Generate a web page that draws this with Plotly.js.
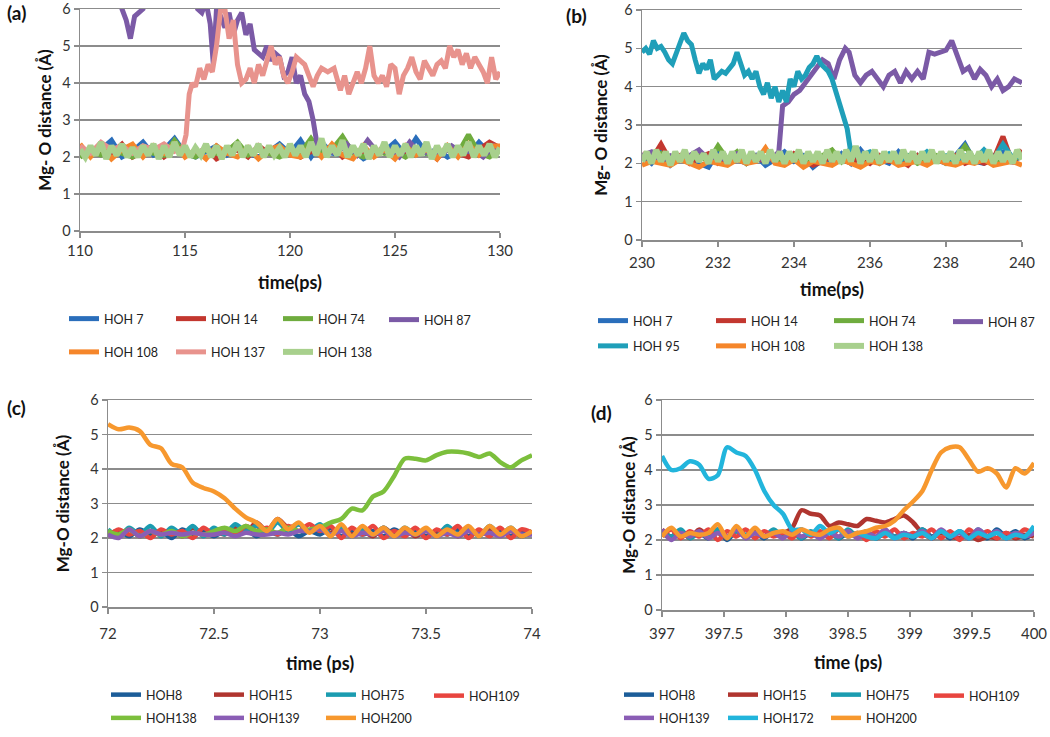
<!DOCTYPE html>
<html><head><meta charset="utf-8">
<script src="https://cdn.plot.ly/plotly-3.0.1.min.js"></script>
<style>html,body{margin:0;padding:0;background:#fff}#chart{width:1050px;height:737px}</style>
</head><body><div id="chart"></div><script>
// ---------- Panel (a) ----------
const tA = [110,110.5,111,111.5,112,112.5,113,113.5,114,114.5,115,115.5,116,116.5,117,117.5,118,118.5,119,119.5,120,120.5,121,121.5,122,122.5,123,123.5,124,124.5,125,125.5,126,126.5,127,127.5,128,128.5,129,129.5,130];
const a_hoh7   = [2.1,2.05,2.2,2.45,2.0,2.15,2.4,2.05,2.2,2.5, 2.1,2.0,2.15,2.3,2.05,2.2,2.1,2.0,2.15,2.35, 2.1,2.45,2.0,2.4,2.1,2.05,2.2,1.95,2.1,2.15, 2.4,2.05,2.5,2.1,2.2,2.0,2.15,2.05,2.4,2.1, 2.2];
const a_hoh14  = [2.3,2.05,2.2,2.1,2.35,2.0,2.15,2.3,2.0,2.2, 2.1,2.05,2.25,1.95,2.1,2.2,2.0,2.3,2.1,2.05, 2.2,2.0,2.15,2.1,2.3,2.0,2.2,2.1,2.05,2.3, 2.0,2.15,2.1,2.2,1.95,2.3,2.1,2.0,2.2,2.4, 2.25];
const a_hoh74  = [2.0,2.15,2.05,2.2,2.1,2.0,2.2,2.1,2.05,2.45, 2.1,2.0,2.2,2.1,2.15,2.4,2.05,2.2,2.1,2.0, 2.15,2.1,2.5,2.1,2.2,2.55,2.1,2.0,2.2,2.1, 2.15,2.0,2.2,2.1,2.05,2.2,2.1,2.6,2.1,2.0, 2.2];
const a_hoh108 = [2.35,2.0,2.3,1.95,2.2,2.35,2.0,2.3,2.1,2.35, 2.0,2.2,1.95,2.3,2.1,2.0,2.25,1.95,2.2,2.3, 2.05,2.0,2.3,2.0,2.35,2.05,1.95,2.3,2.0,2.2, 1.95,2.3,2.05,2.2,1.95,2.3,2.0,2.35,2.05,2.3, 2.3];
const a_t138 = [110,110.25,110.5,110.75,111,111.25,111.5,111.75,112,112.25,112.5,112.75,113,113.25,113.5,113.75,114,114.25,114.5,114.75,115,115.25,115.5,115.75,116,116.25,116.5,116.75,117,117.25,117.5,117.75,118,118.25,118.5,118.75,119,119.25,119.5,119.75,120,120.25,120.5,120.75,121,121.25,121.5,121.75,122,122.25,122.5,122.75,123,123.25,123.5,123.75,124,124.25,124.5,124.75,125,125.25,125.5,125.75,126,126.25,126.5,126.75,127,127.25,127.5,127.75,128,128.25,128.5,128.75,129,129.25,129.5,129.75,130];
const a_hoh138 = [2.2,2.0,2.3,2.05,2.4,1.95,2.3,2.05,2.35,2.0, 2.25,2.0,2.3,2.05,2.35,1.95,2.3,2.0,2.4,2.05, 2.3,2.0,2.25,2.05,2.35,2.0,2.3,1.95,2.3,2.05, 2.4,2.0,2.3,2.05,2.35,2.0,2.3,2.05,2.25,2.0, 2.35,2.05,2.3,2.0,2.4,2.05,2.5,2.0,2.3,2.05, 2.45,2.0,2.3,2.05,2.35,1.95,2.3,2.05,2.4,2.0, 2.3,2.05,2.35,2.0,2.3,2.05,2.4,1.95,2.3,2.05, 2.35,2.0,2.3,2.05,2.4,2.0,2.3,2.05,2.35,2.0, 2.25];
const a_t87 = [110,111.8,112.0,112.2,112.4,112.6,112.8,113.0,113.2, 115.4,115.6,115.8,116.0,116.2,116.35,116.5,116.7,116.9, 117.1,117.3,117.5,117.7,117.9, 118.1,118.3,118.5,118.7,118.9, 119.1,119.3,119.5,119.7,119.9, 120.1,120.3,120.5,120.7,120.9, 121.1,121.3, 121.7,122.2,122.7,123.2,123.7,124.2,124.7,125.2,125.7,126.2, 126.7,127.2,127.7,128.2,128.7,129.2,129.7,130];
const a_hoh87 = [6.8,6.3,6.0,5.7,5.2,5.8,5.9,6.0,6.5, 6.5,6.0,5.9,6.2,5.6,4.5,6.0,5.8,5.5, 5.9,5.3,5.7,5.9,5.3, 5.6,4.9,4.8,4.7,5.0, 4.6,4.8,4.7,4.2,4.3, 4.7,4.0,4.2,3.7,3.5, 3.0,2.3, 2.2,2.1,2.35,2.05,2.45,2.1,2.2,2.0,2.4,2.1, 2.15,2.05,2.3,2.1,2.2,2.0,2.3,2.15];
const a_t137 = [110,110.5,111,111.5,112,112.5,113,113.5,114,114.5, 114.9,115.05,115.2,115.35,115.5,115.7,115.9,116.1,116.3,116.5, 116.7,116.9,117.1,117.3,117.5,117.7,117.9,118.1,118.3,118.5, 118.7,118.9,119.1,119.3,119.5,119.7,119.9,120.1,120.3,120.5, 120.7,120.9,121.1,121.3,121.5,121.8,122.1,122.4,122.6,122.8, 123.0,123.2,123.4,123.6,123.8,124.0,124.2,124.4,124.6,124.8, 125.0,125.2,125.4,125.6,125.8,126.0,126.2,126.4,126.6,126.8, 127.0,127.2,127.4,127.6,127.8,128.0,128.2,128.4,128.6,128.8, 129.0,129.2,129.4,129.6,129.8,130];
const a_hoh137 = [2.3,2.1,2.4,2.2,2.3,2.1,2.3,2.2,2.35,2.15, 2.25,2.6,3.7,4.0,3.9,4.4,4.1,4.5,4.3,5.0, 6.0,6.0,5.2,5.7,4.5,4.0,4.1,4.4,4.0,4.5, 4.2,4.6,5.0,4.5,4.7,4.2,4.0,4.3,4.7,4.6, 4.5,4.2,3.9,4.2,4.4,4.3,4.4,3.8,4.2,3.7, 4.0,4.3,4.0,4.4,5.0,4.2,4.0,4.2,3.9,4.5, 4.4,3.7,4.2,4.4,4.7,4.3,4.1,4.6,4.4,4.2, 4.5,4.6,4.4,5.0,4.7,4.9,4.5,4.8,4.4,4.7, 4.5,4.3,4.0,4.7,4.1,4.3];

// ---------- Panel (b) ----------
const tB = [230,230.25,230.5,230.75,231,231.25,231.5,231.75,232,232.25,232.5,232.75,233,233.25,233.5,233.75,234,234.25,234.5,234.75,235,235.25,235.5,235.75,236,236.25,236.5,236.75,237,237.25,237.5,237.75,238,238.25,238.5,238.75,239,239.25,239.5,239.75,240];
const b_hoh7   = [2.2,2.0,2.3,1.95,2.15,2.1,2.0,1.9,2.3,2.05, 2.1,2.0,2.2,1.95,2.1,2.3,2.05,2.2,1.9,2.1, 2.0,2.25,2.0,2.35,2.05,2.1,2.0,2.3,2.05,2.2, 2.0,2.1,2.0,2.2,2.5,2.05,2.0,2.2,2.3,2.05, 2.2];
const b_hoh14  = [2.25,2.1,2.5,2.05,2.2,2.0,2.15,2.25,2.0,2.1, 2.2,2.0,2.15,2.05,2.2,2.0,2.25,2.1,1.95,2.05, 2.2,2.1,2.0,2.15,2.0,2.2,2.05,2.1,1.95,2.2, 2.0,2.1,2.05,2.2,2.0,2.1,2.0,2.1,2.7,2.0, 2.35];
const b_hoh74  = [2.2,2.1,2.25,2.0,2.15,2.1,2.2,2.05,2.45,2.1, 2.3,2.0,2.2,2.1,2.15,2.05,2.2,2.0,2.1,2.2, 2.35,2.05,2.4,2.1,2.2,2.0,2.15,2.1,2.2,2.0, 2.1,2.2,2.0,2.1,2.45,2.1,2.2,2.0,2.15,2.1, 2.2];
const b_hoh108 = [1.95,2.05,2.0,1.95,2.1,2.0,1.9,2.05,2.0,1.95, 2.1,2.0,2.05,2.4,2.0,1.95,2.1,1.9,2.05,2.0, 1.95,2.1,2.0,1.9,2.05,2.0,2.1,1.95,2.0,2.05, 1.95,2.1,2.0,1.95,2.05,2.0,2.1,1.95,2.0,2.05, 1.95];
const b_t138 = [230,230.125,230.25,230.375,230.5,230.625,230.75,230.875,231,231.125,231.25,231.375,231.5,231.625,231.75,231.875,232,232.125,232.25,232.375,232.5,232.625,232.75,232.875,233,233.125,233.25,233.375,233.5,233.625,233.75,233.875,234,234.125,234.25,234.375,234.5,234.625,234.75,234.875,235,235.125,235.25,235.375,235.5,235.625,235.75,235.875,236,236.125,236.25,236.375,236.5,236.625,236.75,236.875,237,237.125,237.25,237.375,237.5,237.625,237.75,237.875,238,238.125,238.25,238.375,238.5,238.625,238.75,238.875,239,239.125,239.25,239.375,239.5,239.625,239.75,239.875,240];
const b_hoh138 = [2.05,2.3,2.0,2.35,2.05,2.3,1.95,2.3,2.05,2.35, 2.0,2.3,2.05,2.25,2.0,2.35,2.05,2.3,2.0,2.3, 2.05,2.35,2.0,2.3,2.05,2.3,2.0,2.35,2.05,2.3, 2.0,2.3,2.05,2.35,2.0,2.3,2.05,2.3,2.0,2.35, 2.05,2.3,2.0,2.35,2.05,2.45,2.0,2.3,2.05,2.35, 2.0,2.3,2.05,2.3,2.0,2.35,2.05,2.3,2.0,2.3, 2.05,2.35,2.0,2.3,2.05,2.3,2.0,2.35,2.05,2.3, 2.0,2.3,2.05,2.35,2.0,2.3,2.05,2.3,2.0,2.35, 2.1];
const b_t87 = [230,230.25,230.5,230.75,231,231.25,231.5,231.75,232,232.25, 232.5,232.75,233,233.25,233.5, 233.6,233.7,233.85,234.0,234.15, 234.3,234.45,234.6,234.75,234.9, 235.05,235.2,235.35,235.45,235.6, 235.75,235.9,236.05,236.2,236.35, 236.5,236.65,236.8,236.95,237.1, 237.25,237.4,237.55,237.7,237.85,238.0,238.15,238.3,238.45,238.6,238.75,238.9,239.05,239.2,239.35,239.5,239.65,239.8,240];
const b_hoh87 = [2.2,2.3,2.05,2.2,2.1,2.2,2.35,2.1,2.2,2.05, 2.25,2.1,2.2,2.05,2.2, 2.3,3.5,3.6,3.8,3.9, 4.1,4.3,4.5,4.7,4.6, 4.2,4.7,5.0,4.9,4.3, 4.1,4.3,4.4,4.2,4.0, 4.3,4.4,4.1,4.4,4.2, 4.4,4.2,4.9,4.85,4.9,4.95,5.2,4.8,4.4,4.5,4.2,4.45,4.3,4.0,4.2,3.9,4.0,4.2,4.1];
const b_t95 = [230,230.1,230.2,230.3,230.4,230.5,230.6,230.7,230.8,230.9, 231.0,231.1,231.2,231.3,231.4,231.5,231.6,231.7,231.8,231.9, 232.0,232.1,232.2,232.3,232.4,232.5,232.6,232.7,232.8,232.9, 233.0,233.1,233.2,233.3,233.4,233.5,233.6,233.7,233.8,233.9, 234.0,234.1,234.2,234.3,234.4,234.5,234.6,234.7,234.8,234.9, 235.0,235.1,235.2,235.3,235.4,235.5, 235.75,236,236.25,236.5,236.75,237,237.25,237.5,237.75,238,238.25,238.5,238.75,239,239.25,239.5,239.75,240];
const b_hoh95 = [4.9,5.0,4.85,5.2,5.0,5.05,4.9,4.7,4.6,4.9, 5.1,5.4,5.2,5.1,4.7,4.35,4.6,4.45,4.7,4.2, 4.3,4.4,4.35,4.5,4.6,4.9,4.6,4.3,4.4,4.2, 4.4,4.0,3.8,4.1,3.7,4.0,3.6,3.9,3.6,4.2, 4.0,4.4,4.2,4.3,4.5,4.6,4.8,4.6,4.5,4.4, 4.2,3.9,3.6,3.3,2.9,2.25, 2.2,2.3,2.1,2.25,2.05,2.2,2.1,2.3,2.1,2.2,2.05,2.2,2.1,2.35,2.1,2.5,2.15,2.2];

// ---------- Panel (c) ----------
const tC = [72,72.05,72.1,72.15,72.2,72.25,72.3,72.35,72.4,72.45,72.5,72.55,72.6,72.65,72.7,72.75,72.8,72.85,72.9,72.95,73,73.05,73.1,73.15,73.2,73.25,73.3,73.35,73.4,73.45,73.5,73.55,73.6,73.65,73.7,73.75,73.8,73.85,73.9,73.95,74];
const c_hoh8   = [2.1,2.2,2.05,2.25,2.1,2.2,2.0,2.25,2.1,2.2, 2.05,2.2,2.1,2.25,2.05,2.2,2.1,2.25,2.05,2.2, 2.1,2.3,2.05,2.2,2.1,2.2,2.05,2.25,2.1,2.2, 2.05,2.2,2.1,2.25,2.05,2.2,2.1,2.25,2.05,2.2, 2.1];
const c_hoh15  = [2.2,2.1,2.25,2.05,2.2,2.1,2.25,2.05,2.3,2.1, 2.2,2.1,2.3,2.15,2.45,2.2,2.55,2.3,2.4,2.2, 2.35,2.15,2.3,2.1,2.2,2.05,2.3,2.1,2.25,2.05, 2.2,2.1,2.3,2.05,2.2,2.1,2.25,2.1,2.2,2.05, 2.2];
const c_hoh75  = [2.25,2.05,2.3,2.1,2.35,2.05,2.3,2.1,2.35,2.05, 2.3,2.1,2.4,2.2,2.35,2.15,2.45,2.2,2.4,2.2, 2.4,2.1,2.3,2.05,2.25,2.1,2.3,2.05,2.3,2.1, 2.25,2.05,2.35,2.1,2.3,2.05,2.35,2.1,2.3,2.05, 2.2];
const c_hoh109 = [2.05,2.25,2.1,2.2,2.0,2.25,2.1,2.2,2.0,2.3, 2.1,2.25,2.1,2.35,2.2,2.3,2.1,2.35,2.2,2.4, 2.2,2.35,2.0,2.3,2.1,2.35,2.0,2.2,2.05,2.3, 2.0,2.25,2.1,2.35,2.0,2.25,2.05,2.3,2.0,2.25, 2.15];
const c_hoh138 = [2.2,2.1,2.25,2.05,2.2,2.1,2.2,2.05,2.15,2.1, 2.2,2.3,2.2,2.35,2.2,2.25,2.15,2.3,2.2,2.25, 2.3,2.45,2.55,2.85,2.8,3.2,3.35,3.8,4.3,4.3, 4.25,4.4,4.5,4.5,4.45,4.35,4.45,4.2,4.05,4.25, 4.4];
const c_hoh139 = [2.1,2.0,2.25,2.05,2.2,2.1,2.15,2.1,2.15,2.1, 2.1,2.15,2.05,2.15,2.1,2.1,2.15,2.1,2.2,2.2, 2.25,2.1,2.2,2.05,2.15,2.1,2.2,2.05,2.15,2.1, 2.2,2.05,2.15,2.05,2.2,2.1,2.15,2.05,2.2,2.1, 2.1];
const c_hoh200 = [5.3,5.15,5.2,5.1,4.7,4.6,4.15,4.05,3.6,3.45, 3.35,3.15,2.85,2.6,2.45,2.2,2.55,2.25,2.45,2.15, 2.35,2.05,2.4,2.05,2.35,2.1,2.3,2.05,2.3,2.1, 2.3,2.05,2.25,2.1,2.35,2.05,2.35,2.1,2.3,2.05, 2.2];

// ---------- Panel (d) ----------
const tD = [397,397.075,397.15,397.225,397.3,397.375,397.45,397.525,397.6,397.675,397.75,397.825,397.9,397.975,398.05,398.125,398.2,398.275,398.35,398.425,398.5,398.575,398.65,398.725,398.8,398.875,398.95,399.025,399.1,399.175,399.25,399.325,399.4,399.475,399.55,399.625,399.7,399.775,399.85,399.925,400];
const d_hoh8   = [2.2,2.05,2.25,2.1,2.2,2.05,2.3,2.0,2.25,2.1, 2.2,2.05,2.25,2.1,2.2,2.05,2.2,2.1,2.25,2.05, 2.2,2.1,2.25,2.05,2.2,2.1,2.2,2.05,2.3,2.1, 2.2,2.05,2.25,2.1,2.2,2.05,2.3,2.1,2.25,2.05, 2.2];
const d_hoh15  = [2.3,2.1,2.25,2.05,2.3,2.1,2.2,2.05,2.3,2.1, 2.25,2.1,2.2,2.2,2.35,2.85,2.75,2.7,2.4,2.5, 2.45,2.4,2.6,2.55,2.5,2.6,2.7,2.5,2.2,2.05, 2.2,2.1,2.05,2.15,2.0,2.1,2.05,2.2,2.05,2.15, 2.1];
const d_hoh75  = [2.25,2.1,2.3,2.05,2.2,2.1,2.3,2.05,2.25,2.15, 2.2,2.1,2.3,2.1,2.2,2.05,2.25,2.1,2.2,2.05, 2.3,2.1,2.2,2.05,2.25,2.1,2.2,2.1,2.3,2.05, 2.25,2.1,2.2,2.05,2.3,2.1,2.25,2.05,2.2,2.1, 2.3];
const d_hoh109 = [2.1,2.3,2.05,2.25,2.1,2.3,2.0,2.25,2.1,2.3, 2.05,2.25,2.1,2.2,2.05,2.3,2.1,2.25,2.05,2.3, 2.1,2.2,2.0,2.25,2.1,2.3,2.05,2.2,2.1,2.3, 2.05,2.25,2.0,2.3,2.1,2.25,2.05,2.2,2.1,2.3, 2.15];
const d_hoh139 = [2.3,2.0,2.2,2.1,2.25,2.05,2.2,2.1,2.3,2.05, 2.2,2.1,2.2,2.05,2.25,2.1,2.2,2.05,2.2,2.1, 2.25,2.05,2.2,2.1,2.3,2.05,2.2,2.1,2.25,2.05, 2.3,2.1,2.2,2.05,2.3,2.1,2.25,2.05,2.2,2.1, 2.2];
const d_hoh172 = [4.4,4.0,4.05,4.25,4.15,3.75,3.85,4.65,4.5,4.4, 4.0,3.4,3.0,2.75,2.3,2.3,2.15,2.4,2.2,2.3, 2.1,2.2,2.1,2.05,2.2,2.05,2.15,2.1,2.2,2.05, 2.25,2.1,2.25,2.05,2.2,2.1,2.2,2.05,2.15,2.1, 2.4];
const d_hoh200 = [2.1,2.35,2.1,2.2,2.15,2.2,2.45,2.05,2.4,2.1, 2.35,2.1,2.2,2.25,2.15,2.3,2.2,2.15,2.3,2.35, 2.1,2.2,2.25,2.35,2.4,2.55,2.85,3.1,3.4,4.0, 4.5,4.65,4.65,4.3,3.95,4.05,3.9,3.5,4.05,3.9, 4.2];

// ---------- Styling ----------
const FONT = 'Lato, "Open Sans", "DejaVu Sans", sans-serif';
const W = 1050, H = 737;
function px(v){ return v / W; }
function py(v){ return 1 - v / H; }

function tr(x, y, name, color, ax, leg, width, shape){
  return {type:'scatter', mode:'lines', x:x, y:y, name:name,
    xaxis:'x'+ax, yaxis:'y'+ax, legend:leg, legendgroup:'p'+ax+name,
    line:{color:color, width:width, shape:shape||'linear', smoothing:0.8},
    hoverinfo:'skip'};
}
const traces = [
  tr(tA, a_hoh7,   'HOH 7',   '#2a6ebb', '',  'legend',  5),
  tr(tA, a_hoh14,  'HOH 14',  '#c3372f', '',  'legend2', 5),
  tr(tA, a_hoh74,  'HOH 74',  '#6fac3e', '',  'legend3', 5),
  tr(a_t87, a_hoh87, 'HOH 87', '#7b5aa6', '', 'legend4', 5),
  tr(tA, a_hoh108, 'HOH 108', '#f5862b', '',  'legend',  5),
  tr(a_t137, a_hoh137, 'HOH 137', '#e8938d', '', 'legend2', 5),
  tr(a_t138, a_hoh138, 'HOH 138', '#a8d08d', '', 'legend3', 6),

  tr(tB, b_hoh7,   'HOH 7',   '#2a6ebb', '2', 'legend5', 5),
  tr(tB, b_hoh14,  'HOH 14',  '#c3372f', '2', 'legend6', 5),
  tr(tB, b_hoh74,  'HOH 74',  '#6fac3e', '2', 'legend7', 5),
  tr(b_t87, b_hoh87, 'HOH 87', '#7b5aa6', '2', 'legend8', 5),
  tr(b_t95, b_hoh95, 'HOH 95', '#1f9fb9', '2', 'legend5', 5),
  tr(tB, b_hoh108, 'HOH 108', '#f5862b', '2', 'legend6', 5),
  tr(b_t138, b_hoh138, 'HOH 138', '#a8d08d', '2', 'legend7', 6),

  tr(tC, c_hoh8,   'HOH8',   '#1c5d99', '3', 'legend9',  4.5, 'spline'),
  tr(tC, c_hoh15,  'HOH15',  '#b0352f', '3', 'legend10', 4.5, 'spline'),
  tr(tC, c_hoh75,  'HOH75',  '#1b9cb0', '3', 'legend11', 4.5, 'spline'),
  tr(tC, c_hoh109, 'HOH109', '#e8453f', '3', 'legend12', 4.5, 'spline'),
  tr(tC, c_hoh138, 'HOH138', '#7cbf3c', '3', 'legend9',  4.5, 'spline'),
  tr(tC, c_hoh139, 'HOH139', '#8a5db5', '3', 'legend10', 4.5, 'spline'),
  tr(tC, c_hoh200, 'HOH200', '#f7982e', '3', 'legend11', 4.5, 'spline'),

  tr(tD, d_hoh8,   'HOH8',   '#1c5d99', '4', 'legend13', 4.5, 'spline'),
  tr(tD, d_hoh15,  'HOH15',  '#b0352f', '4', 'legend14', 4.5, 'spline'),
  tr(tD, d_hoh75,  'HOH75',  '#1b9cb0', '4', 'legend15', 4.5, 'spline'),
  tr(tD, d_hoh109, 'HOH109', '#e8453f', '4', 'legend16', 4.5, 'spline'),
  tr(tD, d_hoh139, 'HOH139', '#8a5db5', '4', 'legend13', 4.5, 'spline'),
  tr(tD, d_hoh172, 'HOH172', '#22b5dc', '4', 'legend14', 4.5, 'spline'),
  tr(tD, d_hoh200, 'HOH200', '#f7982e', '4', 'legend15', 4.5, 'spline')
];

const GRID = '#8c8c8c';
function xax(dom, anchor, range, dtick, title, standoff, lblOff){
  return {domain:dom, anchor:anchor, range:range, dtick:dtick, tick0:range[0],
    showgrid:false, zeroline:false, showline:true, mirror:true, linecolor:GRID, linewidth:1.5,
    ticks:'outside', ticklen:5, tickcolor:GRID, tickwidth:1.5, ticklabeloverflow:'allow',
    ticklabelstandoff:lblOff || 0,
    tickfont:{family:FONT, size:15, color:'#333'},
    title:{text:title, font:{family:FONT, size:18, color:'#111', weight:'bold'}, standoff:standoff},
    fixedrange:true};
}
function yax(dom, anchor, title, standoff){
  return {domain:dom, anchor:anchor, range:[0,6], dtick:1, tick0:0,
    showgrid:true, gridcolor:GRID, gridwidth:1.5, zeroline:false,
    showline:true, linecolor:GRID, linewidth:1.5,
    ticks:'outside', ticklen:5, tickcolor:GRID, tickwidth:1.5, ticklabeloverflow:'allow',
    tickfont:{family:FONT, size:14.5, color:'#333'},
    title:{text:title, font:{family:FONT, size:17, color:'#111', weight:'bold'}, standoff:standoff},
    fixedrange:true};
}
// one legend per legend column; rows spaced by tracegroupgap
function leg(xp, yp, gap){
  return {orientation:'v', x:px(xp - 4), y:py(yp), xanchor:'left', yanchor:'middle',
    bgcolor:'rgba(0,0,0,0)', borderwidth:0, tracegroupgap:gap,
    font:{family:FONT, size:12.5, color:'#222'}, traceorder:'grouped'};
}
function lab(t, xp, yp){
  return {text:t, xref:'paper', yref:'paper', x:px(xp), y:py(yp), xanchor:'center', yanchor:'middle',
    showarrow:false, font:{family:FONT, size:19, color:'#111', weight:'bold'}};
}
const aR = [320, 351], bR = [322, 345], cR = [696, 717], dR = [696, 717];
const mid = r => (r[0] + r[1]) / 2;

const layout = {
  width:W, height:H, margin:{l:0,r:0,t:0,b:0},
  paper_bgcolor:'#fff', plot_bgcolor:'#fff', showlegend:true,
  xaxis:  xax([px(80),  px(500)],  'y',  [110,130], 5,   'time(ps)', 19, 0),
  yaxis:  yax([py(231), py(9)],    'x',  'Mg- O distance (Å)', 6),
  xaxis2: xax([px(642), px(1022)], 'y2', [230,240], 2,   'time(ps)', 14, 3),
  yaxis2: yax([py(240), py(10)],   'x2', 'Mg- O distance (Å)', 12),
  xaxis3: xax([px(108), px(532)],  'y3', [72,74],   0.5, 'time (ps)', 17, 7),
  yaxis3: yax([py(607), py(400)],  'x3', 'Mg-O distance (Å)', 16),
  xaxis4: xax([px(662), px(1034)], 'y4', [397,400], 0.5, 'time (ps)', 16, 4),
  yaxis4: yax([py(610), py(400)],  'x4', 'Mg-O distance (Å)', 4),
  legend:   leg(68,  mid(aR), 14), legend2:  leg(175, mid(aR), 14),
  legend3:  leg(282, mid(aR), 14), legend4:  leg(388, aR[0], 14),
  legend5:  leg(597, mid(bR), 6),  legend6:  leg(715, mid(bR), 6),
  legend7:  leg(833, mid(bR), 6),  legend8:  leg(952, bR[0], 6),
  legend9:  leg(110, mid(cR), 4),  legend10: leg(213, mid(cR), 4),
  legend11: leg(325, mid(cR), 4),  legend12: leg(433, cR[0], 4),
  legend13: leg(623, mid(dR), 4),  legend14: leg(727, mid(dR), 4),
  legend15: leg(830, mid(dR), 4),  legend16: leg(933, dR[0], 4),
  annotations:[lab('(a)',16,12), lab('(b)',576,15), lab('(c)',16,407), lab('(d)',601,412)]
};
Plotly.newPlot('chart', traces, layout, {displayModeBar:false, staticPlot:true});
</script></body></html>
